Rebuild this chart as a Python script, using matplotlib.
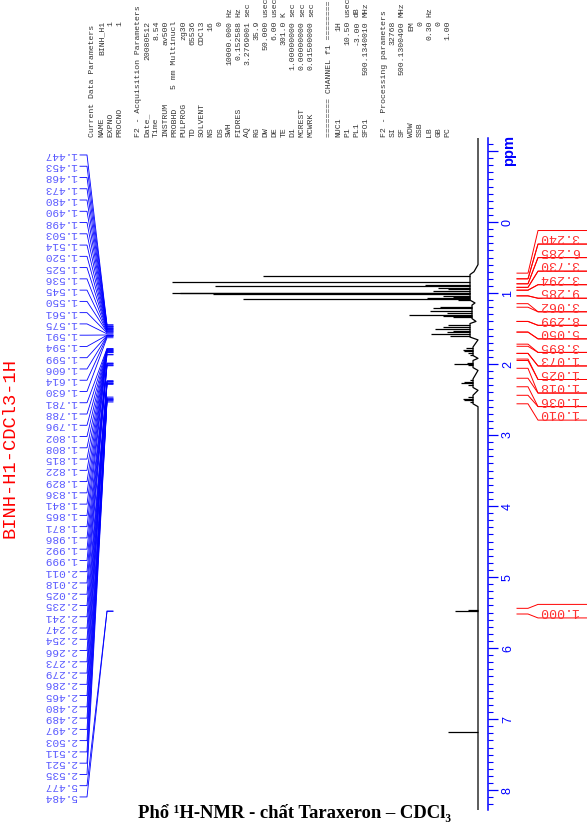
import matplotlib
matplotlib.use('Agg')
import matplotlib.pyplot as plt
import matplotlib.transforms as mtransforms
import numpy as np

W, H = 587, 836

# --- spectrum: peaks (ppm, intensity) ---
peak_ppm = [0.765, 0.84, 0.887, 0.897, 0.93, 0.95, 0.97, 0.995, 1.004, 1.02, 1.04, 1.06,
            1.075, 1.085, 1.10, 1.19, 1.21, 1.25, 1.28, 1.305, 1.32, 1.34,
            1.45, 1.48, 1.50, 1.53, 1.545, 1.58, 1.61,
            1.78, 1.80, 1.82, 1.84, 1.87, 1.99, 2.00, 2.02,
            2.23, 2.25, 2.27, 2.29, 2.47, 2.49, 2.51, 2.53,
            5.47, 5.48, 7.18]
peak_int = [215, 306, 53, 263, 40, 30, 45, 298, 306, 265, 35, 25,
            51, 235, 20, 38, 45, 48, 31, 69, 35, 25,
            30, 35, 43, 25, 31, 47, 28,
            12, 15, 14, 10, 8, 11, 24, 10,
            8, 14, 17, 10, 10, 15, 14, 8,
            10, 23, 30]

# baseline envelope under the multiplets
env_ppm = [-1.183, 0.60, 0.70, 0.74, 1.10, 1.14, 1.17, 1.36, 1.40, 1.43, 1.62, 1.66,
           1.76, 1.88, 1.92, 1.95, 2.05, 2.09, 2.21, 2.33, 2.37, 2.44, 2.56, 2.60, 8.28]
env_int = [0, 0, 4, 8, 8, 3, 6, 6, 2, 8, 8, 0,
           5, 5, 0, 5, 5, 0, 5, 5, 0, 5, 5, 0, 0]

# peak picking labels
label_ppm = [1.447, 1.453, 1.468, 1.473, 1.480, 1.490, 1.498, 1.503, 1.514, 1.520,
             1.525, 1.536, 1.545, 1.550, 1.561, 1.575, 1.591, 1.594, 1.599, 1.606,
             1.614, 1.630, 1.781, 1.788, 1.796, 1.802, 1.808, 1.815, 1.822, 1.829,
             1.836, 1.841, 1.865, 1.871, 1.986, 1.992, 1.999, 2.011, 2.018, 2.025,
             2.235, 2.241, 2.247, 2.254, 2.266, 2.273, 2.279, 2.286, 2.465, 2.480,
             2.489, 2.497, 2.503, 2.511, 2.521, 2.535, 5.477, 5.484]

# integrals
integ_start = [0.72, 0.80, 0.87, 0.92, 0.96, 1.04, 1.20, 1.40, 1.55, 1.75, 1.85, 1.95, 2.20, 2.44]
integ_end = [0.80, 0.87, 0.92, 0.96, 1.04, 1.15, 1.40, 1.55, 1.72, 1.85, 1.93, 2.06, 2.32, 2.56]
integ_val = ['3.240', '6.285', '3.730', '3.294', '9.285', '3.062', '8.299',
             '5.050', '3.895', '1.073', '1.025', '1.018', '1.036', '1.010']
olefin_integ = (5.44, 5.52, '1.000')

# acquisition / processing parameters
param_names = ['Current Data Parameters', 'NAME', 'EXPNO', 'PROCNO', '',
               'F2 - Acquisition Parameters', 'Date_', 'Time', 'INSTRUM', 'PROBHD',
               'PULPROG', 'TD', 'SOLVENT', 'NS', 'DS', 'SWH', 'FIDRES', 'AQ', 'RG',
               'DW', 'DE', 'TE', 'D1', 'MCREST', 'MCWRK', '',
               '======== CHANNEL f1 ========', 'NUC1', 'P1', 'PL1', 'SFO1', '',
               'F2 - Processing parameters', 'SI', 'SF', 'WDW', 'SSB', 'LB', 'GB', 'PC']
param_values = ['', 'BINH_H1', '1', '1', '',
                '', '20080512', '8.54', 'av500', '5 mm Multinucl',
                'zg30', '65536', 'CDCl3', '16', '0', '10000.000', '0.152588', '3.2769001', '35.9',
                '50.000', '6.00', '301.0', '1.00000000', '0.00000000', '0.01500000', '',
                '', '1H', '10.50', '-3.00', '500.1340010', '',
                '', '32768', '500.1300490', 'EM', '0', '0.30', '0', '1.00']
param_units = ['', '', '', '', '',
               '', '', '', '', '',
               '', '', '', '', '', 'Hz', 'Hz', 'sec', '',
               'usec', 'usec', 'K', 'sec', 'sec', 'sec', '',
               '', '', 'usec', 'dB', 'MHz', '',
               '', '', 'MHz', '', '', 'Hz', '', '']

fig = plt.figure(figsize=(W / 100, H / 100), dpi=100)
ax = fig.add_axes([160 / W, 1 - 810 / H, 328 / W, 672 / H])
ax.set_xlim(318, -10)
ax.set_ylim(8.28, -1.183)

# spectrum
ax.plot(env_int, env_ppm, color='black', lw=0.9)
base = np.interp(peak_ppm, env_ppm, env_int)
ax.hlines(peak_ppm, base, np.array(peak_int), color='black', lw=0.9)

# ppm axis on the right
for s in ['left', 'top', 'bottom']:
    ax.spines[s].set_visible(False)
ax.spines['right'].set_color('blue')
ax.spines['right'].set_linewidth(1.1)
ax.set_xticks([])
ax.yaxis.tick_right()
ax.set_yticks(range(-1, 9))
ax.set_yticklabels(['ppm'] + [str(v) for v in range(0, 9)])
ax.set_yticks(np.arange(-1.1, 8.25, 0.1), minor=True)
ax.tick_params(axis='y', which='major', direction='out', length=7, width=0.9,
               color='blue', labelcolor='blue', labelsize=9, labelrotation=90, pad=3)
ax.tick_params(axis='y', which='minor', direction='out', length=3.5, width=0.8, color='blue')
for t in ax.get_yticklabels():
    t.set_va('center')
    t.set_family('Liberation Sans')
ax.get_yticklabels()[0].set_fontsize(10.5)
ax.get_yticklabels()[0].set_fontweight('bold')

# x in figure pixels, y in ppm
trans = mtransforms.blended_transform_factory(fig.transFigure, ax.transData)

def fx(px):
    return px / W

# peak labels on the left
lab0 = -0.944
lab_step = 0.1586
for i, p in enumerate(label_ppm):
    yl = lab0 + i * lab_step
    ax.text(fx(77), yl, f'{p:.3f}', transform=trans, rotation=180, ha='right', va='center',
            fontsize=8, family='Liberation Mono', color='#5a5aff', clip_on=False)
    ax.plot([fx(80), fx(87), fx(107), fx(113)], [yl, yl, p, p], transform=trans,
            color='blue', lw=0.6, clip_on=False)

# integrals on the right of the axis
box0 = 0.12
box_h = 0.1907

def integral(s, e, top, val):
    bot = top + box_h
    ax.plot([fx(517), fx(528), fx(538), fx(590)], [s, s, top, top], transform=trans,
            color='red', lw=0.7, clip_on=False)
    ax.plot([fx(517), fx(528), fx(538), fx(590)], [e, e, bot, bot], transform=trans,
            color='red', lw=0.7, clip_on=False)
    ax.text(fx(539), top + box_h / 2, val, transform=trans, rotation=180, ha='left',
            va='center', fontsize=9.5, family='Liberation Mono', color='#ff3030', clip_on=False)

for i in range(len(integ_val)):
    integral(integ_start[i], integ_end[i], box0 + i * box_h, integ_val[i])
s, e, v = olefin_integ
integral(s, e, (s + e) / 2 - box_h / 2, v)

# parameter block (rotated text at the top)
for i, (n, v, u) in enumerate(zip(param_names, param_values, param_units)):
    x = fx(93 + 9.1 * i)
    kw = dict(rotation=90, rotation_mode='anchor', va='center', fontsize=5.9,
              family='Liberation Mono', color='#333333')
    if n:
        fig.text(x, 1 - 137 / H, n, ha='left', **kw)
    if v:
        fig.text(x, 1 - 21 / H, v, ha='right', **kw)
    if u:
        fig.text(x, 1 - 17 / H, u, ha='left', **kw)

# sample name
fig.text(fx(10), 1 - 448 / H, 'BINH-H1-CDCl3-1H', rotation=90, ha='center', va='center',
         fontsize=13.5, family='Liberation Mono', color='red')

# caption
fig.text(fx(295), 1 - 813 / H, 'Phổ ¹H-NMR - chất Taraxeron – CDCl₃', ha='center', va='center',
         fontsize=13.4, fontweight='bold', family=['Liberation Serif', 'DejaVu Serif'])

fig.savefig('out.png', dpi=100)
